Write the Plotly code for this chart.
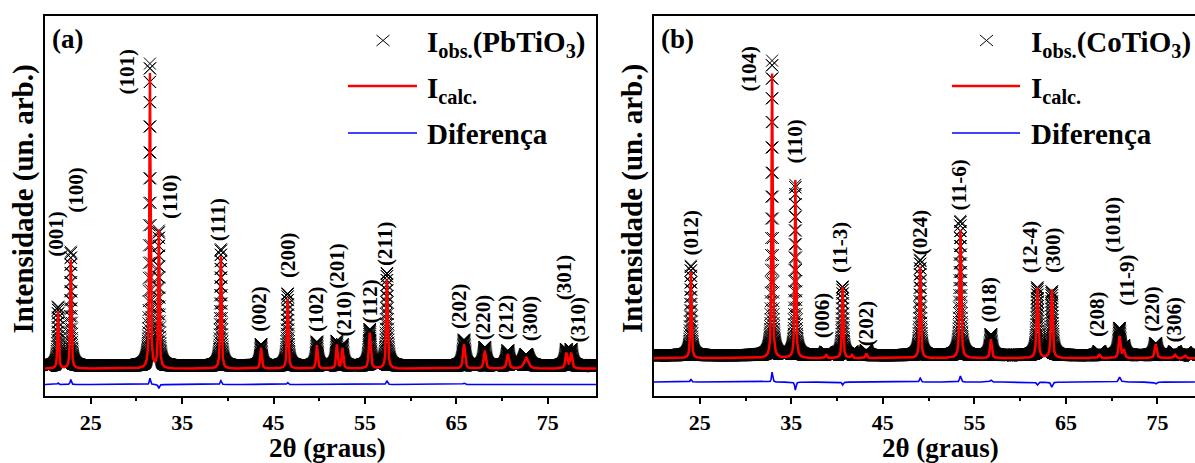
import numpy as np
import plotly.graph_objects as go

W, H = 1195, 463

# ---------------- PbTiO3 (panel a) ----------------
hkl_a = ["(001)", "(100)", "(101)", "(110)", "(111)", "(002)", "(200)", "(102)", "(201)",
         "(210)", "(112)", "(211)", "(202)", "(220)", "(212)", "(300)", "(301)", "(310)"]
pos_a = [21.43, 22.82, 31.48, 32.45, 39.24, 43.63, 46.54, 49.74, 51.92,
         52.54, 55.52, 57.40, 65.83, 68.10, 70.62, 72.64, 77.03, 77.55]
calc_a = [575, 1095, 2965, 1385, 1130, 210, 705, 235, 240,
          205, 360, 895, 245, 180, 145, 110, 155, 155]
obs_a = [590, 1145, 3030, 1345, 1170, 215, 725, 240, 245,
         210, 365, 930, 260, 185, 150, 112, 158, 158]
fwhm_a = [0.16, 0.16, 0.15, 0.16, 0.17, 0.20, 0.18, 0.20, 0.20,
          0.20, 0.24, 0.20, 0.26, 0.26, 0.28, 0.55, 0.26, 0.26]
bg_calc_a = 600
bg_obs_a = 630
diff_base_a = 410

# ---------------- CoTiO3 (panel b) ----------------
hkl_b = ["(012)", "(104)", "(110)", "(006)", "(11-3)", "(202)", "(024)", "(11-6)",
         "(018)", "(12-4)", "(300)", "(208)", "(1010)", "(11-9)", "(220)", "(306)"]
pos_b = [24.03, 32.90, 35.44, 38.80, 41.60, 40.60, 43.20, 49.08, 53.47,
         56.80, 61.88, 63.45, 68.65, 70.85, 71.30, 74.80, 76.90, 78.00]
calc_b = [870, 2860, 1790, 30, 30, 720, 45, 920, 1290,
          190, 710, 690, 35, 220, 80, 140, 35, 25]
obs_b = [900, 2960, 1710, 32, 32, 690, 48, 960, 1350,
         210, 680, 640, 38, 270, 85, 120, 36, 26]
fwhm_b = [0.16, 0.15, 0.16, 0.20, 0.20, 0.17, 0.20, 0.18, 0.20,
          0.22, 0.22, 0.22, 0.24, 0.24, 0.26, 0.26, 0.26, 0.26]
bg_calc_b = 600
bg_obs_b = 630
diff_base_b = 330

# 2-theta sampling of the diffractograms (degrees)
step = 0.01
tt_a = np.arange(20.0, 80.3, step)
tt_b = np.arange(20.0, 79.1, step)


def pattern(tt, pos, amp, fwhm, bg, eta=0.7):
    """Pseudo-Voigt profile built from a reflection list."""
    y = np.full(tt.shape, float(bg))
    for p, a, w in zip(pos, amp, fwhm):
        d = (tt - p) / (w / 2.0)
        y += a * (eta / (1.0 + d ** 2) + (1 - eta) * np.exp(-np.log(2) * d ** 2))
    return y


ya_calc = pattern(tt_a, pos_a, calc_a, fwhm_a, bg_calc_a)
ya_obs = pattern(tt_a, pos_a, obs_a, fwhm_a, bg_obs_a)
ya_diff = ya_obs - ya_calc + diff_base_a
yb_calc = pattern(tt_b, pos_b, calc_b, fwhm_b, bg_calc_b)
yb_obs = pattern(tt_b, pos_b, obs_b, fwhm_b, bg_obs_b)
yb_diff = yb_obs - yb_calc + diff_base_b

# label anchors (2theta, intensity) for the Miller indices
lab_a_x = [21.2, 23.35, 29.0, 33.6, 39.0, 43.45, 46.5, 49.7, 51.95,
           52.65, 55.5, 57.26, 65.33, 67.95, 70.46, 73.08, 76.79, 78.31]
lab_a_y = [1955, 2395, 3590, 2330, 2100, 1205, 1745, 1195, 1635,
           1160, 1270, 1850, 1235, 1120, 1120, 1110, 1520, 1095]
lab_b_x = [24.0, 30.35, 35.42, 38.45, 40.4, 43.2, 49.15, 53.36,
           56.65, 61.07, 63.67, 68.41, 70.13, 71.58, 74.38, 76.77]
lab_b_y = [1860, 3510, 2780, 1030, 1715, 955, 1865, 2340,
           1195, 1715, 1685, 1045, 1940, 1380, 1095, 985]

SERIF = "Liberation Serif, Times New Roman, serif"
BLACK = "#000000"
RED = "#ff0000"
BLUE = "#0000ff"

fig = go.Figure()

for tt, yo, yc, yd, xa, ya in [(tt_a, ya_obs, ya_calc, ya_diff, "x", "y"),
                               (tt_b, yb_obs, yb_calc, yb_diff, "x2", "y2")]:
    fig.add_trace(go.Scatter(x=tt, y=yo, mode="markers", xaxis=xa, yaxis=ya,
                             marker=dict(symbol="x-thin-open", size=12, color=BLACK,
                                         line=dict(width=1, color=BLACK)),
                             showlegend=False, hoverinfo="skip"))
    fig.add_trace(go.Scatter(x=tt, y=yc, mode="lines", xaxis=xa, yaxis=ya,
                             line=dict(color=RED, width=2.5), showlegend=False,
                             hoverinfo="skip"))
    fig.add_trace(go.Scatter(x=tt, y=yd, mode="lines", xaxis=xa, yaxis=ya,
                             line=dict(color=BLUE, width=1.6), showlegend=False,
                             hoverinfo="skip"))


def px(x):
    return x / W


def py(y):
    return 1 - y / H


y_dom = [py(396), py(16)]
xaxis_common = dict(showline=True, linewidth=2, linecolor=BLACK, mirror=True,
                    showgrid=False, zeroline=False, ticks="outside", ticklen=6,
                    tickwidth=2, tickcolor=BLACK,
                    tickvals=[25, 35, 45, 55, 65, 75],
                    ticktext=["25", "35", "45", "55", "65", "75"],
                    tickfont=dict(family=SERIF, size=22, color=BLACK, weight="bold"),
                    minor=dict(tickvals=[30, 40, 50, 60, 70], ticks="outside",
                               ticklen=3, tickwidth=2, tickcolor=BLACK),
                    ticklabelstandoff=0)
yaxis_common = dict(showline=True, linewidth=2, linecolor=BLACK, showgrid=False,
                    zeroline=False, showticklabels=False, ticks="", domain=y_dom)

fig.update_layout(
    width=W, height=H, margin=dict(l=0, r=0, t=0, b=0),
    paper_bgcolor="white", plot_bgcolor="white",
    xaxis=dict(domain=[px(45), px(596)], range=[20, 80.27], anchor="y", **xaxis_common),
    xaxis2=dict(domain=[px(654), 1.0], range=[20, 79.1], anchor="y2", **xaxis_common),
    yaxis=dict(range=[325, 4145], anchor="x", mirror=True, **yaxis_common),
    yaxis2=dict(range=[220, 4040], anchor="x2", mirror=False, **yaxis_common),
)

ann = []
shapes = []

# Miller index labels
for labs, xs, ys, xr, yr in [(hkl_a, lab_a_x, lab_a_y, "x", "y"),
                             (hkl_b, lab_b_x, lab_b_y, "x2", "y2")]:
    for t, x, y in zip(labs, xs, ys):
        ann.append(dict(text=t, x=x, y=y, xref=xr, yref=yr, showarrow=False,
                        textangle=-90, xanchor="center", yanchor="middle",
                        font=dict(family=SERIF, size=21, color=BLACK, weight="bold")))

title_font = dict(family=SERIF, size=29, color=BLACK, weight="bold")
for xc in [22.5, 632.0]:
    ann.append(dict(text="Intensidade (un. arb.)", x=px(xc), y=py(199), xref="paper",
                    yref="paper", showarrow=False, textangle=-90, xanchor="center",
                    yanchor="middle", font=title_font))
for xc in [328, 940]:
    ann.append(dict(text="2θ (graus)", x=px(xc), y=py(447.5), xref="paper", yref="paper",
                    showarrow=False, xanchor="center", yanchor="middle",
                    font=dict(family=SERIF, size=27, color=BLACK, weight="bold")))
for t, xc in [("(a)", 67.5), ("(b)", 677)]:
    ann.append(dict(text=t, x=px(xc), y=py(39), xref="paper", yref="paper",
                    showarrow=False, xanchor="center", yanchor="middle",
                    font=dict(family=SERIF, size=27, color=BLACK, weight="bold")))

# legends
leg_font = dict(family=SERIF, size=29, color=BLACK, weight="bold")
for mx, lx0, lx1, tx, comp in [(383, 348, 417, 425, "PbTiO<sub>3</sub>"),
                               (986.5, 952, 1020, 1029, "CoTiO<sub>3</sub>")]:
    shapes.append(dict(type="line", xref="paper", yref="paper", x0=px(mx - 6.5),
                       x1=px(mx + 6.5), y0=py(35), y1=py(46),
                       line=dict(color=BLACK, width=1)))
    shapes.append(dict(type="line", xref="paper", yref="paper", x0=px(mx - 6.5),
                       x1=px(mx + 6.5), y0=py(46), y1=py(35),
                       line=dict(color=BLACK, width=1)))
    shapes.append(dict(type="line", xref="paper", yref="paper", x0=px(lx0), x1=px(lx1),
                       y0=py(86), y1=py(86), line=dict(color=RED, width=2.5)))
    shapes.append(dict(type="line", xref="paper", yref="paper", x0=px(lx0), x1=px(lx1),
                       y0=py(133), y1=py(133), line=dict(color=BLUE, width=1.5)))
    for t, ytop in [("I<sub>obs.</sub>(" + comp + ")", 24),
                    ("I<sub>calc.</sub>", 70),
                    ("Diferença", 116)]:
        ann.append(dict(text=t, x=px(tx), y=py(ytop), xref="paper", yref="paper",
                        showarrow=False, xanchor="left", yanchor="top", font=leg_font))

fig.update_layout(annotations=ann, shapes=shapes)
fig.write_html("out.html")
